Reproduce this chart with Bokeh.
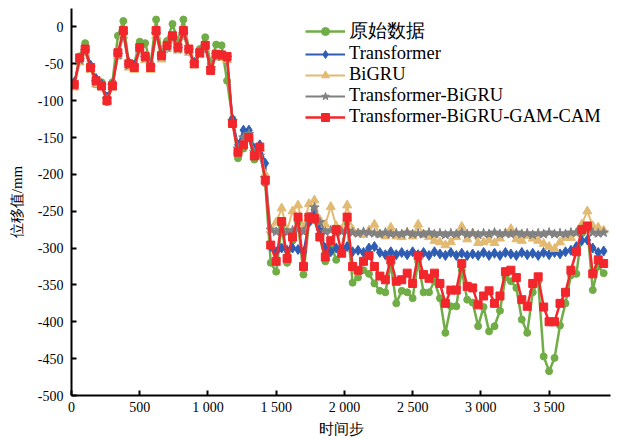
from bokeh.plotting import figure
from bokeh.models import Range1d, FixedTicker
from bokeh.embed import file_html
from bokeh.resources import INLINE

# time steps
steps = list(range(20, 3901, 40))

original = [-80, -40, -22, -55, -78, -75, -102, -75, -12, 8, -50, -50, -20, -22, -50, 10, -35, -19, 4, -20,
            10, -30, -50, -30, -14, -50, -24, -25, -73, -125, -178, -165, -150, -180, -165, -212,
            -320, -332, -270, -320, -290, -265, -336, -265, -262, -285,
            -318, -295, -316, -300, -265, -347, -340, -330, -335, -348,
            -358, -360, -322, -375, -358, -360, -368, -318, -360, -360,
            -345, -368, -415, -379, -379, -330, -370, -374, -406, -380,
            -413, -406, -385, -340, -345, -354, -397, -415, -360, -345,
            -447, -467, -449, -405, -375, -337, -335, -280, -272, -357,
            -325, -334]

transformer = [-75, -45, -32, -52, -70, -78, -95, -78, -38, -10, -48, -52, -30, -40, -52, -10, -38, -28, -15, -28,
               -10, -32, -48, -35, -28, -55, -38, -38, -45, -125, -160, -140, -140, -165, -160, -185,
               -298, -305, -300, -303, -300, -302, -305, -265, -248, -275,
               -300, -305, -300, -303, -298, -305, -303, -306, -300, -298,
               -306, -309, -305, -309, -306, -309, -305, -309, -306, -310,
               -305, -308, -310, -306, -310, -307, -310, -308, -310, -306,
               -310, -307, -310, -306, -308, -310, -306, -309, -307, -310,
               -306, -309, -306, -308, -305, -303, -298, -290, -289, -300,
               -306, -304]

bigru = [-82, -48, -35, -58, -78, -82, -100, -82, -40, -12, -55, -58, -32, -45, -58, -12, -44, -30, -18, -32,
         -12, -35, -52, -38, -30, -55, -40, -42, -45, -130, -168, -155, -148, -172, -165, -200,
         -275, -265, -246, -276, -250, -242, -272, -240, -235, -262,
         -268, -244, -270, -275, -242, -275, -280, -282, -276, -268,
         -282, -284, -272, -284, -285, -279, -284, -268, -282, -285,
         -290, -292, -296, -292, -285, -271, -288, -280, -293, -292,
         -289, -293, -287, -280, -274, -288, -290, -283, -287, -290,
         -294, -298, -301, -292, -286, -286, -280, -268, -250, -270,
         -272, -276]

trans_bigru = [-80, -45, -33, -56, -75, -80, -98, -80, -38, -10, -52, -55, -30, -42, -55, -10, -40, -28, -15, -30,
               -10, -32, -50, -36, -28, -56, -38, -40, -42, -128, -165, -150, -145, -170, -175, -205,
               -275, -278, -276, -279, -276, -275, -278, -258, -245, -265,
               -278, -276, -280, -278, -277, -279, -280, -278, -279, -280,
               -281, -279, -281, -280, -281, -279, -281, -280, -281, -279,
               -281, -280, -282, -280, -281, -279, -281, -280, -282, -280,
               -281, -279, -281, -280, -281, -279, -281, -280, -282, -280,
               -281, -279, -281, -280, -281, -279, -279, -275, -273, -279,
               -280, -279]

proposed = [-78, -42, -30, -55, -73, -80, -100, -80, -35, -5, -50, -55, -28, -40, -55, -5, -39, -25, -12, -28,
            -5, -30, -50, -35, -25, -59, -37, -38, -40, -131, -170, -160, -150, -175, -163, -208,
            -296, -318, -264, -314, -285, -258, -325, -258, -260, -285,
            -312, -290, -275, -307, -258, -325, -330, -318, -310, -325,
            -338, -343, -316, -345, -343, -334, -348, -310, -336, -341,
            -334, -348, -375, -357, -357, -321, -352, -354, -377, -365,
            -358, -375, -365, -332, -330, -340, -370, -379, -348, -339,
            -380, -400, -400, -375, -360, -330, -305, -275, -270, -335,
            -316, -321]

names = ["原始数据", "Transformer", "BiGRU", "Transformer-BiGRU", "Transformer-BiGRU-GAM-CAM"]
x_ticks = [0, 500, 1000, 1500, 2000, 2500, 3000, 3500]
x_tick_labels = ["0", "500", "1 000", "1 500", "2 000", "2 500", "3 000", "3 500"]
y_ticks = [-500, -450, -400, -350, -300, -250, -200, -150, -100, -50, 0]

SERIF = "Liberation Serif"

p = figure(width=620, height=439, output_backend="svg", toolbar_location=None,
           x_range=Range1d(0, 3950), y_range=Range1d(-500, 25),
           min_border_left=71, min_border_right=10, min_border_top=8, min_border_bottom=43)
p.outline_line_color = None
p.xgrid.grid_line_color = None
p.ygrid.grid_line_color = None
p.background_fill_color = "white"

for ax in (p.xaxis[0], p.yaxis[0]):
    ax.axis_line_width = 2
    ax.axis_line_color = "black"
    ax.major_tick_in = 5
    ax.major_tick_out = 0
    ax.major_tick_line_width = 2
    ax.minor_tick_line_color = None
    ax.major_label_text_font = SERIF
    ax.major_label_text_font_size = "14px"
    ax.major_label_text_color = "black"
    ax.axis_label_text_font = SERIF
    ax.axis_label_text_font_size = "15px"
    ax.axis_label_text_font_style = "normal"
    ax.axis_label_text_color = "black"

p.xaxis.ticker = FixedTicker(ticks=x_ticks)
p.xaxis.major_label_overrides = {t: s for t, s in zip(x_ticks, x_tick_labels)}
p.yaxis.ticker = FixedTicker(ticks=y_ticks)
p.yaxis.major_label_overrides = {t: str(t) for t in y_ticks}
p.xaxis.axis_label = "时间步"
p.yaxis.axis_label = "位移值/mm"
p.xaxis.major_label_standoff = 4
p.xaxis.axis_label_standoff = 3
p.yaxis.major_label_standoff = 8
p.yaxis.axis_label_standoff = 10

series = [
    (original, "#70AD47", "circle", 7, 2.5),
    (transformer, "#2F5DB3", "diamond", 10, 2),
    (bigru, "#E3BA72", "triangle", 9, 2),
    (trans_bigru, "#808080", "star", 10, 2),
    (proposed, "#F2262B", "square", 8, 2.5),
]

for (ys, color, marker, size, lw), name in zip(series, names):
    p.line(steps, ys, line_color=color, line_width=lw, legend_label=name)
    p.scatter(steps, ys, marker=marker, size=size, fill_color=color, line_color=color,
              legend_label=name)

lg = p.legend[0]
lg.location = (234, 268)
lg.border_line_color = None
lg.background_fill_alpha = 0
lg.padding = 0
lg.spacing = 0
lg.margin = 0
lg.glyph_width = 40
lg.glyph_height = 20
lg.label_height = 20
lg.label_standoff = 4
lg.label_text_font = SERIF
lg.label_text_font_size = "18.5px"
lg.label_text_color = "black"

open("out.html", "w").write(file_html(p, INLINE))
